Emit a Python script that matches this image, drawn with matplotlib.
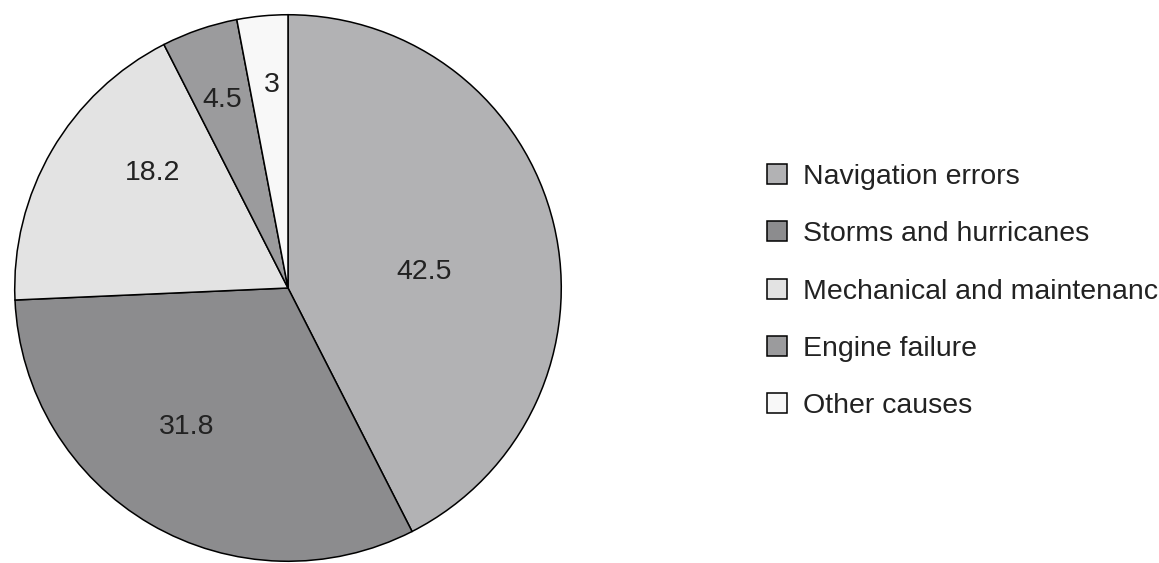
import matplotlib
matplotlib.use('Agg')
import matplotlib.pyplot as plt
import numpy as np

# Data
causes = ['Navigation errors', 'Storms and hurricanes', 'Mechanical and maintenance',
          'Engine failure', 'Other causes']
shares = [42.5, 31.8, 18.2, 4.5, 3]
labels = ['42.5', '31.8', '18.2', '4.5', '3']
colors = ['#b2b2b4', '#8c8c8e', '#e3e3e3', '#9b9b9d', '#f8f8f8']
# label placement: radial distance and angular shift (deg) from wedge middle
label_dist = [0.50, 0.63, 0.65, 0.73, 0.745]
label_shift = [-6.8, -5.8, -10.3, 0.4, -0.9]

plt.rcParams['font.family'] = ['Liberation Sans', 'DejaVu Sans']

fig = plt.figure(figsize=(11.59, 5.63), dpi=100)
W, H = 1159, 563
# pie axes: centre (288, 288) from top, radius 276 px
cx, cy, r = 288, 288, 276
ax = fig.add_axes([(cx - r) / W, (H - cy - r) / H, 2 * r / W, 2 * r / H])

wedges, _ = ax.pie(shares, colors=colors, startangle=90, counterclock=False,
                   wedgeprops=dict(edgecolor='black', linewidth=1.1), radius=1.0)
ax.set_xlim(-1.01, 1.01)
ax.set_ylim(-1.01, 1.01)
ax.set_aspect('equal')
ax.axis('off')

for w, lab, d, s in zip(wedges, labels, label_dist, label_shift):
    mid = np.deg2rad((w.theta1 + w.theta2) / 2 + s)
    ax.text(d * np.cos(mid), d * np.sin(mid), lab, ha='center', va='center',
            fontsize=20.5, color='#222222')

# legend runs off the right edge, as in the original
fig.legend(wedges, causes, loc='upper left', bbox_to_anchor=(767 / W, 1 - 164 / H),
           frameon=False, fontsize=20.5, handlelength=0.70, handleheight=0.70,
           handletextpad=0.56, labelspacing=1.10, borderpad=0, borderaxespad=0,
           labelcolor='#222222')

plt.savefig('out.png', dpi=100)
